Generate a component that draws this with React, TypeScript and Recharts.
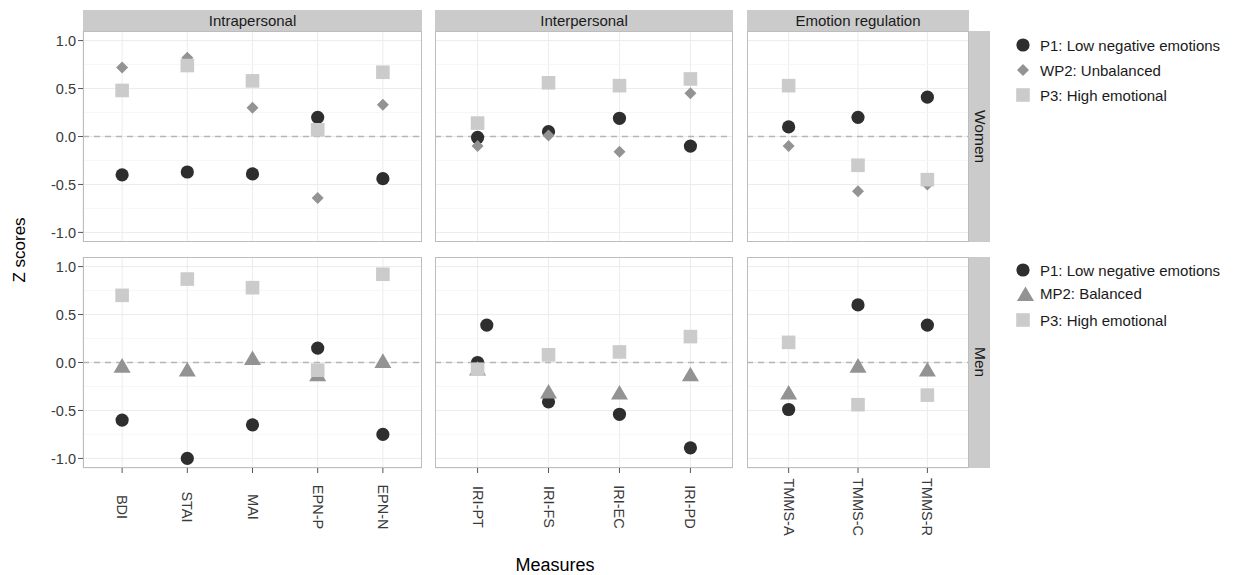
import React from 'react';
import { ScatterChart, Scatter, XAxis, YAxis, CartesianGrid, ReferenceLine } from 'recharts';

// measures per facet column
const intraMeasures = ['BDI', 'STAI', 'MAI', 'EPN-P', 'EPN-N'];
const interMeasures = ['IRI-PT', 'IRI-FS', 'IRI-EC', 'IRI-PD'];
const emoMeasures = ['TMMS-A', 'TMMS-C', 'TMMS-R'];
const facetTitles = ['Intrapersonal', 'Interpersonal', 'Emotion regulation'];
const rowTitles = ['Women', 'Men'];

// z scores, same order as the measures above (intra, inter, emotion regulation)
const womenP1 = [-0.40, -0.37, -0.39, 0.20, -0.44, -0.01, 0.05, 0.19, -0.10, 0.10, 0.20, 0.41];
const womenWP2 = [0.72, 0.82, 0.30, -0.64, 0.33, -0.10, 0.01, -0.16, 0.45, -0.10, -0.57, -0.50];
const womenP3 = [0.48, 0.74, 0.58, 0.07, 0.67, 0.14, 0.56, 0.53, 0.60, 0.53, -0.30, -0.45];

const menP1 = [-0.60, -1.00, -0.65, 0.15, -0.75, 0.00, -0.41, -0.54, -0.89, -0.49, 0.60, 0.39];
const menMP2 = [-0.03, -0.07, 0.05, -0.12, 0.02, -0.06, -0.30, -0.31, -0.12, -0.31, -0.03, -0.07];
const menP3 = [0.70, 0.87, 0.78, -0.08, 0.92, -0.07, 0.08, 0.11, 0.27, 0.21, -0.44, -0.34];
// one extra P1 point for men, slightly beside IRI-PT
const menP1Extra = [{ measure: 'IRI-PT', shift: 0.13, z: 0.39 }];

const womenLegend = ['P1: Low negative emotions', 'WP2: Unbalanced', 'P3: High emotional'];
const menLegend = ['P1: Low negative emotions', 'MP2: Balanced', 'P3: High emotional'];

const yTicks = [-1, -0.5, 0, 0.5, 1];
const yMinor = [-0.75, -0.25, 0.25, 0.75];

const C1 = '#2e2e2e';
const C2 = '#939393';
const C3 = '#cbcbcb';
const STRIP = '#cbcbcb';
const FONT = '"Liberation Sans", Arial, Helvetica, sans-serif';

const columns = [intraMeasures, interMeasures, emoMeasures];
const COL_X = [83, 435, 747];
const COL_W = [339, 298, 222];
const ROW_Y = [31, 257];
const PLOT_H = 211;
const Y_W = 50;
const X_H = 80;

const circleShape = (p: any) => <circle cx={p.cx} cy={p.cy} r={6.6} fill={C1} />;
const diamondShape = (p: any) => (
  <polygon
    points={`${p.cx},${p.cy - 6} ${p.cx + 6},${p.cy} ${p.cx},${p.cy + 6} ${p.cx - 6},${p.cy}`}
    fill={C2}
  />
);
const triangleShape = (p: any) => (
  <polygon
    points={`${p.cx},${p.cy - 7.3} ${p.cx + 8.5},${p.cy + 7.3} ${p.cx - 8.5},${p.cy + 7.3}`}
    fill={C2}
  />
);
const squareShape = (p: any) => <rect x={p.cx - 6.8} y={p.cy - 6.8} width={13.6} height={13.6} fill={C3} />;

function sliceFor(col: number, values: number[]) {
  let start = 0;
  for (let i = 0; i < col; i++) start += columns[i].length;
  return columns[col].map((m, i) => ({ x: i, y: values[start + i], name: m }));
}

function Panel({ row, col }: { row: number; col: number }) {
  const measures = columns[col];
  const showY = col === 0;
  const showX = row === 1;
  const p1 = sliceFor(col, row === 0 ? womenP1 : menP1);
  const p2 = sliceFor(col, row === 0 ? womenWP2 : menMP2);
  const p3 = sliceFor(col, row === 0 ? womenP3 : menP3);
  if (row === 1) {
    menP1Extra.forEach((e) => {
      const idx = measures.indexOf(e.measure);
      if (idx >= 0) p1.push({ x: idx + e.shift, y: e.z, name: e.measure });
    });
  }
  const w = COL_W[col] + (showY ? Y_W : 0);
  const h = PLOT_H + (showX ? X_H : 0);

  const XTick = (props: any) => {
    const { x, y, payload } = props;
    return (
      <text
        transform={`translate(${x},${y + 34}) rotate(90)`}
        textAnchor="middle"
        dominantBaseline="central"
        fontSize={14.5}
        fill="#3a3a3a"
        fontFamily={FONT}
      >
        {measures[payload.value]}
      </text>
    );
  };

  return (
    <div style={{ position: 'absolute', left: COL_X[col] - (showY ? Y_W : 0), top: ROW_Y[row] }}>
      <ScatterChart width={w} height={h} margin={{ top: 0, right: 0, bottom: 0, left: 0 }}>
        <CartesianGrid stroke="#ececec" strokeWidth={1} />
        {yMinor.map((v) => (
          <ReferenceLine key={v} y={v} stroke="#f5f5f5" strokeWidth={0.8} />
        ))}
        <XAxis
          type="number"
          dataKey="x"
          domain={[-0.6, measures.length - 0.4]}
          ticks={measures.map((_, i) => i)}
          allowDataOverflow
          hide={!showX}
          height={X_H}
          axisLine={false}
          tickSize={5}
          tickMargin={0}
          tickLine={{ stroke: '#555' }}
          tick={<XTick />}
          interval={0}
        />
        <YAxis
          type="number"
          dataKey="y"
          domain={[-1.1, 1.1]}
          ticks={yTicks}
          allowDataOverflow
          hide={!showY}
          width={Y_W}
          axisLine={false}
          tickSize={5}
          tickMargin={2}
          tickLine={{ stroke: '#555' }}
          tick={{ fontSize: 14.5, fill: '#3a3a3a', fontFamily: FONT }}
          tickFormatter={(v: number) => v.toFixed(1)}
          interval={0}
        />
        <ReferenceLine y={0} stroke="#b5b5b5" strokeWidth={1.4} strokeDasharray="6 5" />
        <Scatter data={p1} shape={circleShape} isAnimationActive={false} />
        <Scatter data={p2} shape={row === 0 ? diamondShape : triangleShape} isAnimationActive={false} />
        <Scatter data={p3} shape={squareShape} isAnimationActive={false} />
      </ScatterChart>
    </div>
  );
}

function LegendBlock({ top, labels, triangle }: { top: number; labels: string[]; triangle: boolean }) {
  const gaps = triangle ? [0, 23.5, 50] : [0, 25, 50];
  return (
    <div style={{ position: 'absolute', left: 1012, top }}>
      {labels.map((lab, i) => (
        <div key={lab} style={{ position: 'absolute', top: gaps[i] - 10, left: 0, height: 20, width: 230, display: 'flex', alignItems: 'center' }}>
          <svg width={24} height={20} style={{ flex: 'none' }}>
            {i === 0 && <circle cx={11} cy={10} r={6.6} fill={C1} />}
            {i === 1 && !triangle && <polygon points="11,4 17,10 11,16 5,10" fill={C2} />}
            {i === 1 && triangle && <polygon points="13.5,2.5 22,17 5,17" fill={C2} />}
            {i === 2 && <rect x={4.2} y={3.2} width={13.6} height={13.6} fill={C3} />}
          </svg>
          <span style={{ marginLeft: 4, fontSize: 15, color: '#1a1a1a', fontFamily: FONT, whiteSpace: 'nowrap' }}>{lab}</span>
        </div>
      ))}
    </div>
  );
}

export default function App() {
  return (
    <div style={{ position: 'absolute', left: 0, top: 0, width: 1240, height: 575, background: '#fff', fontFamily: FONT, overflow: 'hidden' }}>
      {facetTitles.map((t, c) => (
        <div
          key={t}
          style={{
            position: 'absolute', left: COL_X[c], top: 10, width: COL_W[c], height: 21, background: STRIP,
            display: 'flex', alignItems: 'center', justifyContent: 'center', fontSize: 15, color: '#1a1a1a',
          }}
        >
          {t}
        </div>
      ))}
      {rowTitles.map((t, r) => (
        <div
          key={t}
          style={{
            position: 'absolute', left: COL_X[2] + COL_W[2], top: ROW_Y[r], width: 21, height: PLOT_H, background: STRIP,
            display: 'flex', alignItems: 'center', justifyContent: 'center',
          }}
        >
          <span style={{ writingMode: 'vertical-rl', fontSize: 15.5, color: '#1a1a1a' }}>{t}</span>
        </div>
      ))}
      {[0, 1].map((r) =>
        [0, 1, 2].map((c) => <Panel key={`${r}-${c}`} row={r} col={c} />)
      )}
      {[0, 1].map((r) =>
        [0, 1, 2].map((c) => (
          <div
            key={`b${r}-${c}`}
            style={{
              position: 'absolute', left: COL_X[c], top: ROW_Y[r], width: COL_W[c], height: PLOT_H,
              border: '1px solid #bdbdbd', boxSizing: 'border-box', pointerEvents: 'none',
            }}
          />
        ))
      )}
      <div
        style={{
          position: 'absolute', left: 20, top: 250, transform: 'translate(-50%,-50%) rotate(-90deg)',
          fontSize: 17, color: '#000', whiteSpace: 'nowrap',
        }}
      >
        Z scores
      </div>
      <div style={{ position: 'absolute', left: 555, top: 565, transform: 'translate(-50%,-50%)', fontSize: 18, color: '#000' }}>
        Measures
      </div>
      <LegendBlock top={45} labels={womenLegend} triangle={false} />
      <LegendBlock top={270} labels={menLegend} triangle={true} />
    </div>
  );
}
